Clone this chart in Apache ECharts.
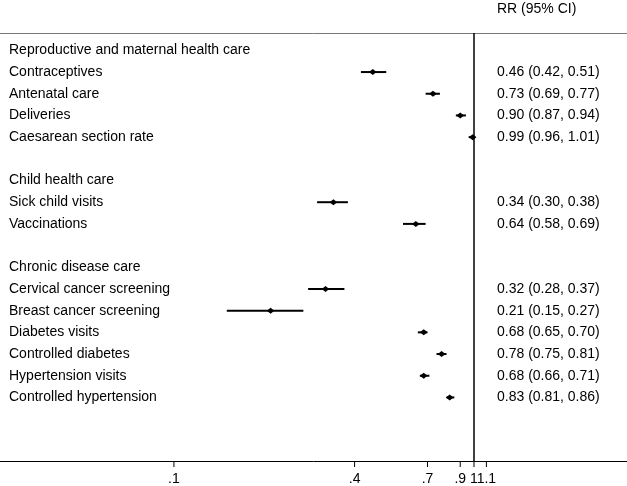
<!DOCTYPE html>
<html>
<head>
<meta charset="utf-8">
<script src="https://cdn.jsdelivr.net/npm/echarts@6/dist/echarts.min.js"></script>
<style>html,body{margin:0;padding:0;background:#fff}#c{width:627px;height:486px}</style>
</head>
<body>
<div id="c"></div>
<script>
// ---- data ----
const groupNames = ['Reproductive and maternal health care', 'Child health care', 'Chronic disease care'];
const groupRows = [0, 6, 10];
const outcomes = ['Contraceptives', 'Antenatal care', 'Deliveries', 'Caesarean section rate',
  'Sick child visits', 'Vaccinations',
  'Cervical cancer screening', 'Breast cancer screening', 'Diabetes visits', 'Controlled diabetes',
  'Hypertension visits', 'Controlled hypertension'];
const outcomeRows = [1, 2, 3, 4, 7, 8, 11, 12, 13, 14, 15, 16];
const rr =    [0.46, 0.73, 0.90, 0.99, 0.34, 0.64, 0.32, 0.21, 0.68, 0.78, 0.68, 0.83];
const lower = [0.42, 0.69, 0.87, 0.96, 0.30, 0.58, 0.28, 0.15, 0.65, 0.75, 0.66, 0.81];
const upper = [0.51, 0.77, 0.94, 1.01, 0.38, 0.69, 0.37, 0.27, 0.70, 0.81, 0.71, 0.86];
const xTicks = [0.1, 0.4, 0.7, 0.9, 1, 1.1];
const refValue = 1;

const FONT = '"Liberation Sans", Arial, Helvetica, sans-serif';
const FS = 14;
const Y_MIN = -0.8, Y_MAX = 18.93;
const fmtTick = v => (v < 1 ? String(v).replace(/^0/, '') : String(v));

const chart = echarts.init(document.getElementById('c'), null, {renderer: 'canvas'});

const outData = outcomes.map((n, i) => [rr[i], outcomeRows[i], lower[i], upper[i], i]);
const grpData = groupNames.map((n, i) => [1, groupRows[i], i]);
const tickData = xTicks.map((v, i) => [v, Y_MAX, i]);

chart.setOption({
  animation: false,
  title: {
    text: 'RR (95% CI)', left: 497, top: 2, padding: 0,
    textStyle: {fontFamily: FONT, fontSize: FS, fontWeight: 'normal', color: '#000'}
  },
  grid: {left: 0, right: 0, top: 33, bottom: 25, containLabel: false},
  xAxis: [{
    type: 'log', logBase: 10, min: 0.02632, max: 3.236,
    position: 'bottom',
    axisLine: {show: true, onZero: false, lineStyle: {color: '#000', width: 1}},
    axisTick: {show: false},
    axisLabel: {show: false},
    splitLine: {show: false}
  }, {
    type: 'log', logBase: 10, min: 0.02632, max: 3.236,
    position: 'top',
    axisLine: {show: true, onZero: false, lineStyle: {color: '#777', width: 1}},
    axisTick: {show: false}, axisLabel: {show: false}, splitLine: {show: false}
  }],
  yAxis: {
    type: 'value', min: Y_MIN, max: Y_MAX, inverse: true, show: false
  },
  series: [{
    type: 'custom',
    xAxisIndex: 0,
    clip: false,
    data: outData,
    renderItem: function (params, api) {
      const row = api.value(1);
      const p = api.coord([api.value(0), row]);
      const a = api.coord([api.value(2), row]);
      const b = api.coord([api.value(3), row]);
      const i = api.value(4);
      const w = 3.8, h = 3;
      return {
        type: 'group',
        children: [
          {type: 'line', shape: {x1: a[0], y1: a[1], x2: b[0], y2: b[1]},
            style: {stroke: '#000', lineWidth: 2}},
          {type: 'polygon', shape: {points: [[p[0] - w, p[1]], [p[0], p[1] - h], [p[0] + w, p[1]], [p[0], p[1] + h]]},
            style: {fill: '#000'}},
          {type: 'text', x: 9, y: p[1],
            style: {text: outcomes[i], fontFamily: FONT, fontSize: FS, fill: '#000',
              textAlign: 'left', textVerticalAlign: 'middle'}},
          {type: 'text', x: 497, y: p[1],
            style: {text: rr[i].toFixed(2) + ' (' + lower[i].toFixed(2) + ', ' + upper[i].toFixed(2) + ')',
              fontFamily: FONT, fontSize: FS, fill: '#000', textAlign: 'left', textVerticalAlign: 'middle'}}
        ]
      };
    },
    markLine: {
      silent: true, symbol: 'none', label: {show: false},
      lineStyle: {color: '#000', width: 1.5, type: 'solid'},
      data: [{xAxis: refValue}]
    }
  }, {
    type: 'custom',
    xAxisIndex: 0,
    clip: false,
    data: grpData,
    renderItem: function (params, api) {
      const p = api.coord([api.value(0), api.value(1)]);
      const i = api.value(2);
      return {type: 'text', x: 9, y: p[1],
        style: {text: groupNames[i], fontFamily: FONT, fontSize: FS, fill: '#000',
          textAlign: 'left', textVerticalAlign: 'middle'}};
    }
  }, {
    // x-axis ticks and tick labels, placed through the x scale
    type: 'custom',
    xAxisIndex: 0,
    clip: false,
    data: tickData,
    renderItem: function (params, api) {
      const p = api.coord([api.value(0), api.value(1)]);
      const i = api.value(2);
      return {
        type: 'group',
        children: [
          {type: 'line', shape: {x1: p[0], y1: p[1], x2: p[0], y2: p[1] + 6},
            style: {stroke: '#000', lineWidth: 1}},
          {type: 'text', x: p[0], y: p[1] + 18,
            style: {text: fmtTick(xTicks[i]), fontFamily: FONT, fontSize: FS, fill: '#000',
              textAlign: 'center', textVerticalAlign: 'middle'}}
        ]
      };
    }
  }]
});
</script>
</body>
</html>
